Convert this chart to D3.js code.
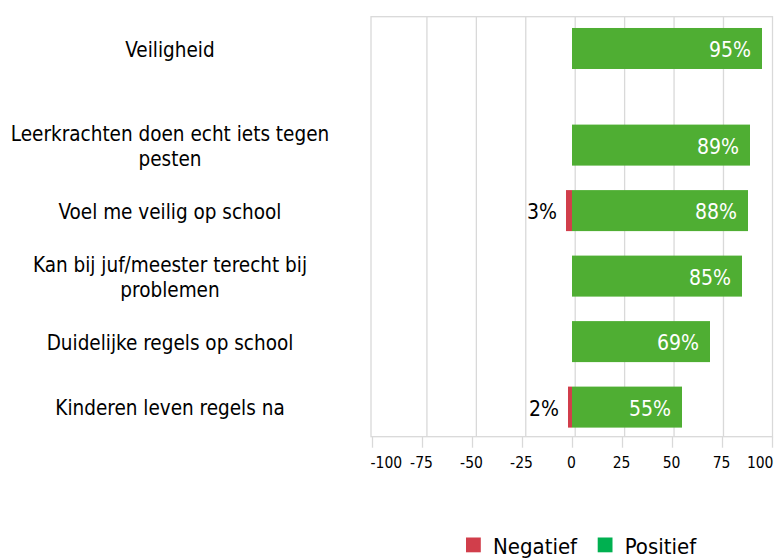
<!DOCTYPE html>
<html><head><meta charset="utf-8">
<script src="https://cdn.jsdelivr.net/npm/d3@7"></script>
<style>body{margin:0;background:#fff}svg{display:block}</style>
</head><body><svg id="c" width="777" height="558"></svg>
<script>
const categories = ["Veiligheid", "Leerkrachten doen echt iets tegen pesten", "Voel me veilig op school", "Kan bij juf/meester terecht bij problemen", "Duidelijke regels op school", "Kinderen leven regels na"];
const positief = [95, 89, 88, 85, 69, 55];
const negatief = [0, 0, 3, 0, 0, 2];
const tickValues = [-100, -75, -50, -25, 0, 25, 50, 75, 100];
const seriesNames = ["Negatief", "Positief"];

const font = "'DejaVu Sans Condensed', 'DejaVu Sans', sans-serif";
const colNeg = "#D13E4B", colPos = "#4FAE33", colPosLegend = "#00B050", gridCol = "#D9D9D9";
const plot = {left: 371, right: 772.5, top: 16.7, bottom: 436.7};
const svg = d3.select("#c");

const x = d3.scaleLinear().domain([-100, 100]).range([372, 772]);
const xGrid = d3.scaleLinear().domain([-100, 100]).range([377.5, 772.9]);

const headerCat = categories[0];
const items = categories.slice(1);
const step = 65.5, bw = 41, firstTop = 124.6;
const pad = (step - bw) / step;
const yItems = d3.scaleBand().domain(items)
  .range([firstTop - (step - bw) / 2, firstTop - (step - bw) / 2 + items.length * step])
  .paddingInner(pad).paddingOuter(pad / 2);
const y = c => c === headerCat ? yItems(items[0]) - 1.475 * step : yItems(c);

const rows = categories.map((c, i) => ({cat: c, pos: positief[i], neg: negatief[i]}));

// gridlines
svg.append("g").selectAll("line").data(tickValues.slice(1, -1)).join("line")
  .attr("x1", d => xGrid(d)).attr("x2", d => xGrid(d))
  .attr("y1", plot.top).attr("y2", plot.bottom)
  .attr("stroke", gridCol).attr("stroke-width", 1.3);
// plot border
svg.append("rect").attr("x", plot.left).attr("y", plot.top)
  .attr("width", plot.right - plot.left).attr("height", plot.bottom - plot.top)
  .attr("fill", "none").attr("stroke", gridCol).attr("stroke-width", 1.3);

// bars
const bars = svg.append("g");
bars.selectAll("rect.pos").data(rows).join("rect").attr("class", "pos")
  .attr("x", x(0)).attr("y", d => y(d.cat))
  .attr("width", d => x(d.pos) - x(0)).attr("height", bw).attr("fill", colPos);
bars.selectAll("rect.neg").data(rows.filter(d => d.neg > 0)).join("rect").attr("class", "neg")
  .attr("x", d => x(-d.neg)).attr("y", d => y(d.cat))
  .attr("width", d => x(0) - x(-d.neg)).attr("height", bw).attr("fill", colNeg);

// value labels
bars.selectAll("text.pv").data(rows).join("text").attr("class", "pv")
  .attr("x", d => x(d.pos) - 11).attr("y", d => y(d.cat) + bw / 2 + 8.8)
  .attr("text-anchor", "end").attr("fill", "#fff")
  .style("font-family", font).style("font-size", "21px")
  .text(d => d.pos + "%");
bars.selectAll("text.nv").data(rows.filter(d => d.neg > 0)).join("text").attr("class", "nv")
  .attr("x", d => x(-d.neg) - 9).attr("y", d => y(d.cat) + bw / 2 + 8.8)
  .attr("text-anchor", "end").attr("fill", "#000")
  .style("font-family", font).style("font-size", "21px")
  .text(d => d.neg + "%");

// category labels with wrapping
const labelX = 170, wrapW = 345, lineH = 25.4;
const lg = svg.append("g");
rows.forEach(d => {
  const t = lg.append("text").attr("text-anchor", "middle")
    .style("font-family", font).style("font-size", "20.5px").attr("fill", "#000");
  const words = d.cat.split(" ");
  let lines = [], cur = [];
  const probe = t.append("tspan");
  words.forEach(w => {
    const test = cur.concat([w]).join(" ");
    probe.text(test);
    if (probe.node().getComputedTextLength() > wrapW && cur.length) {
      lines.push(cur.join(" ")); cur = [w];
    } else cur.push(w);
  });
  lines.push(cur.join(" "));
  probe.remove();
  const cy = y(d.cat) + bw / 2 + 8.3;
  lines.forEach((ln, i) => {
    t.append("tspan").attr("x", labelX)
      .attr("y", cy + (i - (lines.length - 1) / 2) * lineH).text(ln);
  });
});

// x axis
const ax = svg.append("g").attr("transform", `translate(0,${plot.bottom})`)
  .call(d3.axisBottom(x).tickValues(tickValues).tickSize(11).tickFormat(d => d));
ax.select(".domain").remove();
ax.selectAll(".tick line").attr("stroke", gridCol).attr("stroke-width", 1.3);
ax.selectAll(".tick text").attr("y", 31.6).attr("dy", 0).attr("fill", "#000")
  .style("font-family", font).style("font-size", "15.5px")
  .attr("dx", -1)
  .attr("text-anchor", "middle");
ax.selectAll(".tick text").filter(d => d === tickValues[0]).attr("text-anchor", "start").attr("dx", -2);
ax.selectAll(".tick text").filter(d => d === tickValues[tickValues.length - 1]).attr("text-anchor", "end").attr("dx", 1);

// legend
const legend = svg.append("g");
const legItems = [{name: seriesNames[0], col: colNeg, x: 466}, {name: seriesNames[1], col: colPosLegend, x: 597.7}];
legend.selectAll("rect").data(legItems).join("rect")
  .attr("x", d => d.x).attr("y", 537.5).attr("width", 14.8).attr("height", 14.8).attr("fill", d => d.col);
legend.selectAll("text").data(legItems).join("text")
  .attr("x", d => d.x + 27).attr("y", 554.3)
  .style("font-family", font).style("font-size", "22px").attr("fill", "#000")
  .text(d => d.name);
</script>
</body></html>
